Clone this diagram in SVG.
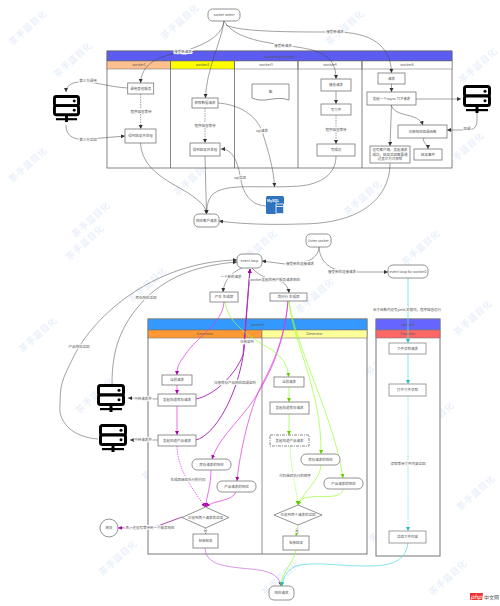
<svg xmlns="http://www.w3.org/2000/svg" width="500" height="606" viewBox="0 0 500 606">
<style>
text{font-family:"Noto Sans CJK SC","Liberation Sans",sans-serif;font-size:3.5px;fill:#555;text-anchor:middle}
.wm{font-size:9px;fill:#e4ecfa;letter-spacing:.5px}
.b{fill:#fff;stroke:#777;stroke-width:.8}
.p{fill:none;stroke:#666;stroke-width:.8}
.lab{paint-order:stroke;stroke:#fff;stroke-width:1.6px}
.c{fill:none;stroke:#555;stroke-width:.5}
.d{stroke-dasharray:1.5 1}
.k{stroke:#444;marker-end:url(#ak)}
.m{fill:none;stroke:#d3d;stroke-width:.7;marker-end:url(#am)}
.mt{fill:none;stroke:#a3b;stroke-width:1;marker-end:url(#am)}
.g{fill:none;stroke:#9f3;stroke-width:.7;marker-end:url(#ag)}
.y{fill:none;stroke:#6dd;stroke-width:.8}
</style>
<defs>
<marker id="ak" markerWidth="5" markerHeight="5" refX="4" refY="2" orient="auto" markerUnits="userSpaceOnUse"><path d="M0 0L4 2L0 4z" fill="#333"/></marker>
<marker id="am" markerWidth="5" markerHeight="5" refX="4" refY="2" orient="auto" markerUnits="userSpaceOnUse"><path d="M0 0L4 2L0 4z" fill="#a0a"/></marker>
<marker id="ag" markerWidth="5" markerHeight="5" refX="4" refY="2" orient="auto" markerUnits="userSpaceOnUse"><path d="M0 0L4 2L0 4z" fill="#6c0"/></marker>
<marker id="ay" markerWidth="5" markerHeight="5" refX="4" refY="2" orient="auto" markerUnits="userSpaceOnUse"><path d="M0 0L4 2L0 4z" fill="#2bc"/></marker>
<symbol id="srv" viewBox="0 0 28 28" overflow="visible">
<rect x="1.5" y="1.5" width="25" height="9.5" rx="2" fill="#fff" stroke="#000" stroke-width="3"/>
<rect x="1.5" y="11" width="25" height="9.5" rx="2" fill="#fff" stroke="#000" stroke-width="3"/>
<circle cx="22" cy="6.2" r="1.5"/><circle cx="22" cy="15.8" r="1.5"/>
<rect x="12.5" y="21" width="3" height="7"/><rect x="3" y="24" width="22" height="2.2"/>
</symbol>
</defs>
<g id="watermarks">
<text class="wm" transform="translate(30 30) rotate(-42)">茶手蓝目化</text><text class="wm" transform="translate(182 24) rotate(-42)">茶手蓝目化</text><text class="wm" transform="translate(347 30) rotate(-42)">茶手蓝目化</text><text class="wm" transform="translate(480 68) rotate(-42)">茶手蓝目化</text><text class="wm" transform="translate(75 62) rotate(-42)">茶手蓝目化</text><text class="wm" transform="translate(250 68) rotate(-42)">茶手蓝目化</text><text class="wm" transform="translate(400 110) rotate(-42)">茶手蓝目化</text><text class="wm" transform="translate(137 118) rotate(-42)">茶手蓝目化</text><text class="wm" transform="translate(300 142) rotate(-42)">茶手蓝目化</text><text class="wm" transform="translate(467 152) rotate(-42)">茶手蓝目化</text><text class="wm" transform="translate(30 167) rotate(-42)">茶手蓝目化</text><text class="wm" transform="translate(195 180) rotate(-42)">茶手蓝目化</text><text class="wm" transform="translate(365 200) rotate(-42)">茶手蓝目化</text><text class="wm" transform="translate(93 222) rotate(-42)">茶手蓝目化</text><text class="wm" transform="translate(87 245) rotate(-42)">茶手蓝目化</text><text class="wm" transform="translate(260 250) rotate(-42)">茶手蓝目化</text><text class="wm" transform="translate(423 250) rotate(-42)">茶手蓝目化</text><text class="wm" transform="translate(150 287) rotate(-42)">茶手蓝目化</text><text class="wm" transform="translate(317 298) rotate(-42)">茶手蓝目化</text><text class="wm" transform="translate(40 337) rotate(-42)">茶手蓝目化</text><text class="wm" transform="translate(210 343) rotate(-42)">茶手蓝目化</text><text class="wm" transform="translate(475 320) rotate(-42)">茶手蓝目化</text><text class="wm" transform="translate(387 360) rotate(-42)">茶手蓝目化</text><text class="wm" transform="translate(97 398) rotate(-42)">茶手蓝目化</text><text class="wm" transform="translate(267 412) rotate(-42)">茶手蓝目化</text><text class="wm" transform="translate(437 422) rotate(-42)">茶手蓝目化</text><text class="wm" transform="translate(163 465) rotate(-42)">茶手蓝目化</text><text class="wm" transform="translate(333 465) rotate(-42)">茶手蓝目化</text><text class="wm" transform="translate(478 495) rotate(-42)">茶手蓝目化</text><text class="wm" transform="translate(223 520) rotate(-42)">茶手蓝目化</text><text class="wm" transform="translate(390 527) rotate(-42)">茶手蓝目化</text><text class="wm" transform="translate(120 560) rotate(-42)">茶手蓝目化</text><text class="wm" transform="translate(283 580) rotate(-42)">茶手蓝目化</text><text class="wm" transform="translate(450 580) rotate(-42)">茶手蓝目化</text>
</g>
<g id="master">
<rect x="107" y="51" width="345" height="117" fill="#fff" stroke="#666" stroke-width=".8"/>
<rect x="107" y="51" width="345" height="10" fill="#5c5cf0" stroke="#666" stroke-width=".6"/>
<text x="279.5" y="57.5">workerman master</text>
<rect x="107" y="61" width="63.5" height="8" fill="#ffc090" stroke="#666" stroke-width=".5"/><text x="139" y="66.3">worker1</text>
<rect x="170.5" y="61" width="64" height="8" fill="#ff0" stroke="#666" stroke-width=".5"/><text x="202.5" y="66.3">worker2</text>
<rect x="234.5" y="61" width="63.5" height="8" fill="#fff" stroke="#666" stroke-width=".5"/><text x="266" y="66.3">worker3</text>
<rect x="298" y="61" width="64" height="8" fill="#fff" stroke="#666" stroke-width=".5"/><text x="330" y="66.3">worker4</text>
<rect x="362" y="61" width="90" height="8" fill="#fff" stroke="#666" stroke-width=".5"/><text x="407" y="66.3">worker5</text>
<path class="p" d="M170.5 61V168M234.5 61V168M298 61V168M362 61V168"/>
</g>
<g id="lower-worker1">
<rect x="148" y="319" width="219" height="235" fill="#fff" stroke="#777" stroke-width="1"/>
<rect x="148" y="319" width="219" height="11" fill="#39f" stroke="#777" stroke-width=".6"/><text x="257.5" y="326">worker1</text>
<rect x="148" y="330" width="114" height="8" fill="#f93" stroke="#777" stroke-width=".6"/><text x="205" y="335.3">Generator</text>
<rect x="262" y="330" width="105" height="8" fill="#ff9" stroke="#777" stroke-width=".6"/><text x="314.5" y="335.3">Generator</text>
<path d="M262 338V554" fill="none" stroke="#777" stroke-width=".8"/>
</g>
<g id="lower-worker2">
<rect x="376" y="319" width="64" height="237" fill="#fff" stroke="#777" stroke-width="1"/>
<rect x="376" y="319" width="64" height="11" fill="#66f" stroke="#777" stroke-width=".6"/><text x="408" y="326">worker2</text>
<rect x="376" y="330" width="64" height="8" fill="#f66" stroke="#777" stroke-width=".6"/><text x="408" y="335.3">Function</text>
</g>
<g id="connectors">
<path class="c k" d="M224 21C222 38 200 46 182 52C160 56 142 62 140.5 83"/>
<path class="c k" d="M224 21C222 40 206 70 205.5 98"/>
<path class="c k" d="M224 21C235 40 270 43 290 46C320 50 336 55 336 79"/>
<path class="c k" d="M226 25C240 32 290 32 335 32C370 32 391 45 391.5 73"/>
<path class="c k" d="M127.7 88C110 87 95 82 86 82C75 81 66 84 66 92"/>
<path class="c k" d="M66 125C66 140 80 140 90 139L125 136"/>
<path class="c k d" d="M140.7 94V129"/>
<path class="c k d" d="M205 108V143"/>
<path class="c k" d="M218 103C245 105 258 120 262 131C268 150 274 170 274.5 187"/>
<path class="c k" d="M266 206C248 205 242 190 240 175C237 160 232 149 221 149"/>
<path class="c k" d="M140.5 143C142 175 180 185 195 198C203 204 206 208 206.5 214"/>
<path class="c k" d="M205 156L206.5 214"/>
<path class="c k" d="M336 156C336 175 320 184 300 186C260 189 225 182 212 195C208 200 207 205 206.5 214"/>
<path class="c k" d="M390 163C390 195 365 224 300 224C270 225 240 224 219 221"/>
<path class="c k" d="M336 91V104"/>
<path class="c k d" d="M336 115V144"/>
<path class="c k" d="M391.5 84V92"/>
<path class="c k" d="M416 99H461"/>
<path class="c k" d="M391 105C395 118 418 112 423 125"/>
<path class="c k" d="M391.5 105L390 146"/>
<path class="c k" d="M423 138C423 143 428 145 428 149"/>
<path class="c k" d="M477 113C477 125 478 130 465 130L447 130"/>
<path class="c k" d="M319 247C318 262 300 264 285 264L262 261"/>
<path class="c k" d="M319 247C320 262 330 271 350 272L388 272"/>
<path class="c k" d="M242 268C232 272 224 280 223 292"/>
<path class="c k" d="M252 268C260 277 270 279 275 280C283 281 288 285 289 293"/>
<path class="c k" d="M98 439C70 437 58 420 60 405C60 385 62 380 72 360C90 320 150 262 237 260"/>
<path class="c k" d="M112 384C112 350 120 325 146 298C170 275 200 265 237 262"/>
<path class="c k" d="M158 399L128 398"/>
<path class="c k" d="M158 440L130 440"/>
<path class="m" d="M224 302C222 325 198 335 185 355C178 364 177 368 177 375"/>
<path class="m" d="M177 385V394"/>
<path class="m" d="M177 406V435"/>
<path class="m d" d="M177 446C178 470 190 485 205 507"/>
<path class="mt" d="M196 399C215 395 235 375 243 355L250 269"/>
<path class="mt" d="M196 440C215 435 238 395 244 350L250 269"/>
<path class="m" d="M288 301C285 335 275 370 250 405C235 425 218 440 212 459"/>
<path class="m" d="M288 301C285 340 270 370 260 388C250 410 240 450 237 481"/>
<path class="m" d="M211 470C211 485 207 495 205.5 507"/>
<path class="m" d="M236 492C232 502 212 500 206 507"/>
<path class="m" d="M205.5 528V534"/>
<path fill="none" stroke="#808" stroke-width=".7" marker-end="url(#am)" d="M182 517L155 527L118 528"/>
<path fill="none" stroke="#c6d" stroke-width=".7" marker-end="url(#am)" d="M205 548C206 565 225 566 240 568C260 570 278 570 281 586"/>
<path class="g" d="M225 302C228 325 255 340 272 350C282 357 288 365 288.5 377"/>
<path class="g" d="M289 301C292 340 322 390 321 454"/>
<path class="g" d="M289 301C295 345 335 420 343 478"/>
<path class="g" d="M289 387V402"/>
<path class="g" d="M289 414V435"/>
<path class="g d" d="M290 446C291 470 296 485 298 505"/>
<path class="g" d="M321 465C320 480 305 490 298 505"/>
<path class="g" d="M343 489C342 500 320 495 310 497C303 498 298 500 298 505"/>
<path class="g" d="M298 525L296 536"/>
<path class="g" d="M296 550C293 565 282 570 281 586"/>
<path class="y" marker-end="url(#ay)" d="M408 278V343"/>
<path class="y" marker-end="url(#ay)" d="M408 354V384"/>
<path class="y d" marker-end="url(#ay)" d="M408 396V531"/>
<path class="y" marker-end="url(#ay)" d="M408 543C405 565 385 566 365 566C340 566 320 562 300 565C290 567 283 575 282 586"/>
</g>
<g id="connector-labels">
<text class="lab" x="183" y="53.3">接受新请求</text><text class="lab" x="283" y="47.3">接受新请求</text><text class="lab" x="335" y="33.3">接受新请求</text>
<text class="lab" x="88" y="82.3">第三方调用</text><text class="lab" x="88" y="140.8">第三方返回</text>
<text class="lab" x="141" y="113.3">程序阻塞等待</text><text class="lab" x="205" y="127.3">程序阻塞等待</text><text class="lab" x="336" y="131.3">程序阻塞等待</text>
<text class="lab" x="262" y="132.3">sql请求</text><text class="lab" x="240" y="179.3">sql返回</text><text class="lab" x="467" y="130.3">回调</text>
<text class="lab" x="300" y="265.3">接受新的连接请求</text><text class="lab" x="342" y="273.3">接受新的连接请求</text>
<text class="lab" x="231" y="278.3">一个新的请求</text><text class="lab" x="275" y="281.3">worker发起的用户服务请求响应</text>
<text class="lab" x="146" y="299.3">库存响应返回</text><text class="lab" x="79" y="348.3">产品响应返回</text>
<text class="lab" x="247" y="343.3">注册监听</text><text class="lab" x="235" y="384.3">注册库存产品响应回调监听</text>
<text class="lab" x="143" y="400.3">中转请求外</text><text class="lab" x="143" y="441.3">中转请求外</text>
<text class="lab" x="188" y="481.3">生成器继续执行的代码</text><text class="lab" x="295" y="477.3">代码继续执行的顺序</text>
<text class="lab" x="150" y="529.3">否，还没有等待另一个服务响应</text>
<text class="lab" x="205.5" y="532">是</text><text class="lab" x="297" y="532">是</text>
<text class="lab" x="407" y="311.3">由于函数内没有yield 关键词，程序阻塞运行</text>
<text class="lab" x="408" y="465.3">读取等待文件内容返回</text>
</g>
<g id="socket-select"><rect class="b" x="208" y="9" width="32" height="12" rx="4.5"/><text x="224" y="16.3">socket select</text></g>
<g id="n-call"><rect class="b" x="127.7" y="83" width="26" height="11"/><text x="140.7" y="89.8">调用其他服务</text></g>
<g id="server-a"><use href="#srv" x="53" y="95" width="27" height="27"/></g>
<g id="n-res1"><rect class="b" x="125" y="129" width="31" height="14"/><text x="140.5" y="137.3">得到结果并处理</text></g>
<g id="n-get"><rect class="b" x="192" y="98" width="26" height="10"/><text x="205" y="104.3">获取数据请求</text></g>
<g id="n-res2"><rect class="b" x="190" y="143" width="30" height="13"/><text x="205" y="150.8">得到结果并处理</text></g>
<g id="n-resp"><rect class="b" x="194" y="214" width="25" height="13" rx="4.5"/><text x="206.5" y="221.8">响应客户请求</text></g>
<g id="n-doc"><path class="b" d="M252 84H289V100C275 95 265 104 252 98Z"/><text x="270.5" y="93.3">图</text></g>
<g id="mysql"><rect x="266" y="196" width="18" height="18" rx="1.5" fill="#2f73bf"/><text x="273" y="201.5" style="fill:#fff;font-weight:bold">MySQL</text><path d="M276 204H283.5V213.5H276Z" fill="#2f73bf" stroke="#fff" stroke-width=".8"/><path d="M276 206.5H283.5" stroke="#fff" stroke-width=".8"/></g>
<g id="n-recv"><rect class="b" x="321" y="79" width="30" height="12"/><text x="336" y="86.3">接收请求</text></g>
<g id="n-write"><rect class="b" x="321" y="104" width="30" height="11"/><text x="336" y="110.8">写文件</text></g>
<g id="n-done"><rect class="b" x="317" y="144" width="38" height="12"/><text x="336" y="151.3">写成功</text></g>
<g id="n-req"><rect class="b" x="378" y="73" width="27" height="11"/><text x="391.5" y="79.8">请求</text></g>
<g id="n-async"><rect class="b" x="367" y="92" width="49" height="13"/><text x="391.5" y="99.8">发起一个async TCP请求</text></g>
<g id="n-cb"><rect class="b" x="398" y="125" width="49" height="13"/><text x="422.5" y="132.8">注册响应回调函数</text></g>
<g id="n-evt"><rect class="b" x="414" y="149" width="28" height="11"/><text x="428" y="155.8">结果事件</text></g>
<g id="n-client"><rect class="b" x="370" y="146" width="40" height="17"/><text x="390" y="151">没有客户端、发起请求</text><text x="390" y="155.5">成功，结果返回需要通</text><text x="390" y="160">过其它方式获取</text></g>
<g id="server-b"><use href="#srv" x="463" y="85" width="28" height="28"/></g>
<g id="listen"><rect class="b" x="306" y="234" width="25" height="13" rx="4.5"/><text x="318.5" y="241.8">listen socket</text></g>
<g id="loop"><rect class="b" x="237" y="254" width="25" height="14" rx="5"/><text x="249.5" y="262.3">event loop</text></g>
<g id="loop2"><rect class="b" x="388" y="265" width="40" height="13" rx="5"/><text x="408" y="272.8">event loop for worker2</text></g>
<g id="gen1"><rect class="b" x="210" y="292" width="28" height="10"/><text x="224" y="298.3">产生 生成器</text></g>
<g id="gen2"><rect class="b" x="270" y="293" width="37" height="8"/><text x="288.5" y="298.3">询问行 生成器</text></g>
<g id="f1"><rect x="389" y="343" width="37" height="11" fill="#fff" stroke="#888" stroke-width=".8"/><text x="407.5" y="349.8">文件读取请求</text></g>
<g id="f2"><rect x="389" y="384" width="37" height="12" fill="#fff" stroke="#888" stroke-width=".8"/><text x="407.5" y="391.3">打开文件读取</text></g>
<g id="f3"><rect x="389" y="531" width="37" height="12" fill="#fff" stroke="#888" stroke-width=".8"/><text x="407.5" y="538.3">返回文件内容</text></g>
<g id="l1"><rect class="b" x="162" y="375" width="30" height="10"/><text x="177" y="381.3">当前请求</text></g>
<g id="l2"><rect class="b" x="158" y="394" width="38" height="12"/><text x="177" y="401.3">发起知道库存请求</text></g>
<g id="l3"><rect class="b" x="158" y="435" width="38" height="11"/><text x="177" y="441.8">发起知道产品请求</text></g>
<g id="server-c"><use href="#srv" x="97" y="384" width="28" height="28"/></g>
<g id="server-d"><use href="#srv" x="99" y="424" width="28" height="28"/></g>
<g id="l4"><rect class="b" x="192" y="459" width="39" height="11" rx="5"/><text x="211.5" y="465.8">库存请求的响应</text></g>
<g id="l5"><rect class="b" x="217" y="481" width="39" height="11" rx="5"/><text x="236.5" y="487.8">产品请求的响应</text></g>
<g id="l6"><path class="b" d="M205.5 507L229 517.5L205.5 528L182 517.5Z"/><text x="205.5" y="518.8">已收到两个请求的返回</text></g>
<g id="l7"><rect class="b" x="193" y="534" width="25" height="14"/><text x="205.5" y="542.3">包装结果</text></g>
<g id="gateway"><circle class="b" cx="109" cy="528" r="9"/><text x="109" y="529.3">网关</text></g>
<g id="r1"><rect class="b" x="274" y="377" width="30" height="10"/><text x="289" y="383.3">当前请求</text></g>
<g id="r2"><rect class="b" x="270" y="402" width="39" height="12"/><text x="289.5" y="409.3">发起知道库存请求</text></g>
<g id="r3"><rect x="270" y="435" width="39" height="11" fill="#fff" stroke="#555" stroke-width=".7" stroke-dasharray="3 1 1 1"/><text x="289.5" y="441.8">发起知道产品请求</text></g>
<g id="r4"><rect class="b" x="301" y="454" width="39" height="11" rx="5"/><text x="320.5" y="460.8">库存请求的响应</text></g>
<g id="r5"><rect class="b" x="324" y="478" width="39" height="11" rx="5"/><text x="343.5" y="484.8">产品请求的响应</text></g>
<g id="r6"><path class="b" d="M298 505L322 515L298 525L274 515Z"/><text x="298" y="516.3">已收到两个请求的返回</text></g>
<g id="r7"><rect class="b" x="283" y="536" width="26" height="14"/><text x="296" y="544.3">包装结果</text></g>
<g id="final"><rect class="b" x="269" y="586" width="25" height="14" rx="5"/><text x="281.5" y="594.3">响应请求</text></g>
<g id="php-logo"><path d="M470 593H483L482 600H470Z" fill="#e33"/><text x="476" y="598.5" style="fill:#fff;font-size:6px;font-style:italic">php</text><text x="491.5" y="599" style="font-size:5px;fill:#555">中文网</text></g>
</svg>
